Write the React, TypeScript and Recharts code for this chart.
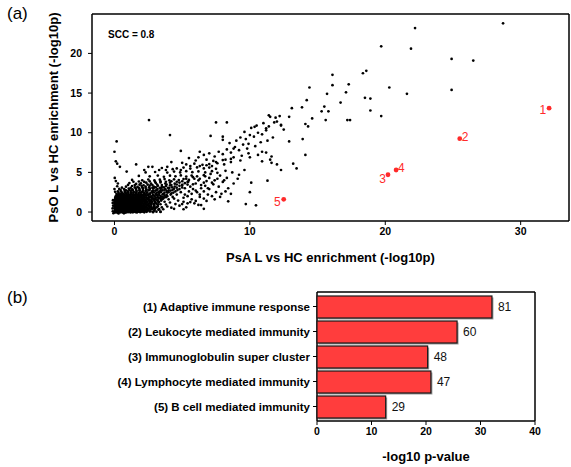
import {
  ScatterChart,
  Scatter,
  BarChart,
  Bar,
  XAxis,
  YAxis,
  CartesianGrid,
  LabelList,
} from 'recharts'

// panel (a): -log10p for each gene set, PsA (x) vs PsO (y)
const coreGenes: [number, number][] = [
  [0.0, 0.0], [0.08, -0.05], [0.15, 0.05], [0.22, -0.08], [0.3, 0.02], [0.38, 0.08], [0.45, -0.04], [0.52, 0.04],
  [0.6, -0.06], [0.68, 0.06], [0.76, 0.0], [0.84, -0.07], [0.92, 0.05], [1.0, -0.02], [1.1, 0.07], [1.18, -0.05],
  [1.27, 0.03], [1.36, -0.03], [1.46, 0.06], [1.55, 0.0], [1.66, -0.06], [1.78, 0.04], [1.9, -0.02], [2.04, 0.05],
  [2.2, -0.04], [2.38, 0.03], [2.6, 0.08], [2.85, -0.02], [3.1, 0.05], [3.4, 0.02],
  [0.03, 0.28], [0.11, 0.22], [0.19, 0.3], [0.27, 0.24], [0.35, 0.32], [0.43, 0.21], [0.5, 0.29], [0.58, 0.25],
  [0.66, 0.33], [0.74, 0.22], [0.82, 0.3], [0.9, 0.26], [0.98, 0.34], [1.07, 0.23], [1.16, 0.31], [1.25, 0.24],
  [1.34, 0.29], [1.44, 0.22], [1.54, 0.33], [1.64, 0.27], [1.75, 0.21], [1.87, 0.3], [2.0, 0.25], [2.15, 0.33],
  [2.3, 0.2], [2.48, 0.28], [2.7, 0.35], [2.95, 0.24], [3.25, 0.3],
  [0.0, 0.52], [0.09, 0.47], [0.17, 0.55], [0.25, 0.5], [0.33, 0.44], [0.41, 0.56], [0.49, 0.49], [0.57, 0.53],
  [0.65, 0.46], [0.73, 0.57], [0.81, 0.5], [0.89, 0.45], [0.97, 0.55], [1.06, 0.48], [1.15, 0.58], [1.24, 0.51],
  [1.33, 0.45], [1.43, 0.54], [1.53, 0.49], [1.63, 0.57], [1.74, 0.46], [1.86, 0.53], [1.99, 0.6], [2.12, 0.48],
  [2.27, 0.55], [2.43, 0.5], [2.6, 0.58], [2.82, 0.47], [3.05, 0.56],
  [0.02, 0.76], [0.1, 0.72], [0.18, 0.8], [0.26, 0.74], [0.34, 0.7], [0.42, 0.79], [0.5, 0.75], [0.58, 0.71],
  [0.66, 0.8], [0.74, 0.76], [0.82, 0.7], [0.9, 0.78], [0.99, 0.73], [1.08, 0.81], [1.17, 0.74], [1.26, 0.7],
  [1.36, 0.79], [1.46, 0.75], [1.56, 0.82], [1.67, 0.71], [1.79, 0.77], [1.92, 0.84], [2.06, 0.72], [2.2, 0.8],
  [2.36, 0.75], [2.54, 0.83], [2.72, 0.7], [2.95, 0.79], [3.2, 0.74],
  [0.01, 1.0], [0.09, 0.96], [0.17, 1.04], [0.25, 0.98], [0.33, 0.94], [0.41, 1.03], [0.49, 0.99], [0.57, 1.06],
  [0.65, 0.95], [0.73, 1.01], [0.81, 1.07], [0.9, 0.97], [0.99, 1.03], [1.08, 0.95], [1.18, 1.05], [1.28, 1.0],
  [1.38, 0.94], [1.49, 1.06], [1.6, 0.99], [1.72, 1.04], [1.85, 0.96], [1.98, 1.08], [2.13, 1.0], [2.29, 1.05],
  [2.46, 0.97], [2.65, 1.07], [2.88, 1.0], [3.1, 1.06], [3.4, 0.98],
  [0.0, 1.27], [0.08, 1.22], [0.16, 1.3], [0.24, 1.24], [0.32, 1.2], [0.41, 1.29], [0.5, 1.25], [0.59, 1.32],
  [0.68, 1.21], [0.77, 1.28], [0.86, 1.23], [0.95, 1.31], [1.05, 1.26], [1.15, 1.2], [1.25, 1.3], [1.36, 1.24],
  [1.47, 1.33], [1.58, 1.27], [1.7, 1.21], [1.83, 1.3], [1.96, 1.25], [2.1, 1.34], [2.26, 1.22], [2.42, 1.3],
  [2.6, 1.26], [2.8, 1.33], [3.02, 1.24], [3.3, 1.3],
  [0.02, 1.52], [0.11, 1.47], [0.2, 1.55], [0.3, 1.5], [0.4, 1.45], [0.5, 1.56], [0.6, 1.49], [0.7, 1.54],
  [0.8, 1.46], [0.9, 1.57], [1.0, 1.51], [1.11, 1.47], [1.22, 1.55], [1.33, 1.5], [1.45, 1.58], [1.57, 1.46],
  [1.7, 1.53], [1.84, 1.6], [1.98, 1.48], [2.13, 1.56], [2.3, 1.5], [2.48, 1.59], [2.68, 1.47], [2.9, 1.55],
  [3.15, 1.52], [3.45, 1.6],
  [0.05, 1.78], [0.16, 1.72], [0.27, 1.8], [0.38, 1.74], [0.5, 1.7], [0.62, 1.79], [0.74, 1.73], [0.86, 1.81],
  [0.98, 1.76], [1.1, 1.71], [1.23, 1.8], [1.36, 1.75], [1.5, 1.83], [1.64, 1.72], [1.79, 1.79], [1.95, 1.86],
  [2.1, 1.74], [2.27, 1.82], [2.45, 1.77], [2.64, 1.85], [2.85, 1.73], [3.08, 1.81], [3.35, 1.78], [3.65, 1.84],
  [0.1, 2.02], [0.24, 1.97], [0.37, 2.05], [0.5, 2.0], [0.64, 1.95], [0.78, 2.06], [0.92, 2.0], [1.06, 2.08],
  [1.2, 1.96], [1.35, 2.03], [1.5, 2.1], [1.65, 1.98], [1.8, 2.05], [1.97, 2.12], [2.14, 2.0], [2.32, 2.07],
  [2.5, 2.14], [2.7, 1.99], [2.92, 2.08], [3.15, 2.15], [3.4, 2.02], [3.7, 2.1],
  [0.15, 2.3], [0.32, 2.26], [0.5, 2.34], [0.68, 2.28], [0.86, 2.36], [1.04, 2.25], [1.22, 2.33], [1.4, 2.4],
  [1.58, 2.27], [1.77, 2.35], [1.96, 2.42], [2.16, 2.3], [2.36, 2.38], [2.57, 2.26], [2.8, 2.44], [3.05, 2.33],
  [3.3, 2.4], [3.6, 2.28], [3.9, 2.45],
  [0.25, 2.62], [0.5, 2.58], [0.75, 2.66], [0.98, 2.6], [1.2, 2.68], [1.42, 2.56], [1.64, 2.64], [1.86, 2.71],
  [2.08, 2.59], [2.3, 2.67], [2.54, 2.74], [2.78, 2.6], [3.02, 2.69], [3.28, 2.57], [3.55, 2.72], [3.85, 2.64],
  [4.15, 2.7],
  [0.35, 2.92], [0.72, 2.88], [1.05, 2.95], [1.32, 2.86], [1.58, 2.98], [1.85, 2.9], [2.1, 3.0], [2.36, 2.87],
  [2.62, 2.96], [2.9, 3.03], [3.18, 2.9], [3.46, 2.99], [3.76, 2.88], [4.05, 3.02], [4.4, 2.94],
  [0.2, 3.25], [0.85, 3.2], [1.3, 3.28], [1.7, 3.18], [2.0, 3.3], [2.3, 3.22], [2.6, 3.32], [2.9, 3.2],
  [3.2, 3.3], [3.5, 3.18], [3.8, 3.28], [4.1, 3.35], [4.45, 3.22], [4.8, 3.3],
  [0.25, 3.6], [1.1, 3.65], [1.6, 3.55], [1.95, 3.62], [2.35, 3.7], [2.7, 3.58], [3.05, 3.66], [3.4, 3.74],
  [3.75, 3.6], [4.1, 3.7], [4.45, 3.58], [4.8, 3.72], [5.2, 3.64],
  [0.05, 2.55], [0.0, 2.9], [0.1, 3.9], [0.02, 4.3],
  [-0.12, 0.1], [-0.14, 0.45], [-0.1, 0.8], [-0.13, 1.15], [-0.11, 1.5], [-0.08, -0.15], [0.3, -0.18], [0.7, -0.16],
]

// second pass through the crowded corner, between the rows above
const coreGenesFill: [number, number][] = [
  [0.05, 0.14], [0.13, 0.1], [0.21, 0.16], [0.29, 0.12], [0.37, 0.09], [0.46, 0.15], [0.55, 0.11], [0.64, 0.17],
  [0.72, 0.1], [0.8, 0.14], [0.88, 0.12], [0.96, 0.17], [1.04, 0.09], [1.13, 0.15], [1.22, 0.12], [1.31, 0.16],
  [1.41, 0.1], [1.51, 0.14], [1.61, 0.11], [1.72, 0.17], [1.83, 0.13], [1.95, 0.09], [2.1, 0.15], [2.26, 0.12],
  [2.44, 0.16], [2.66, 0.1], [2.9, 0.14],
  [0.06, 0.4], [0.14, 0.36], [0.22, 0.41], [0.3, 0.37], [0.39, 0.34], [0.47, 0.42], [0.55, 0.38], [0.63, 0.35],
  [0.71, 0.41], [0.79, 0.37], [0.87, 0.43], [0.95, 0.36], [1.03, 0.4], [1.12, 0.35], [1.21, 0.42], [1.3, 0.38],
  [1.4, 0.34], [1.5, 0.41], [1.6, 0.37], [1.71, 0.43], [1.82, 0.36], [1.94, 0.4], [2.08, 0.38], [2.22, 0.42],
  [2.38, 0.35], [2.56, 0.41], [2.78, 0.38], [3.0, 0.42], [3.3, 0.36],
  [0.04, 0.64], [0.12, 0.6], [0.21, 0.66], [0.29, 0.62], [0.37, 0.59], [0.45, 0.67], [0.53, 0.62], [0.61, 0.65],
  [0.69, 0.6], [0.77, 0.66], [0.85, 0.63], [0.93, 0.59], [1.02, 0.67], [1.11, 0.62], [1.2, 0.65], [1.29, 0.6],
  [1.39, 0.68], [1.49, 0.63], [1.59, 0.59], [1.7, 0.66], [1.81, 0.62], [1.93, 0.68], [2.06, 0.61], [2.2, 0.66],
  [2.35, 0.63], [2.52, 0.69], [2.7, 0.6], [2.92, 0.65], [3.15, 0.62],
  [0.05, 0.89], [0.13, 0.85], [0.22, 0.91], [0.3, 0.87], [0.38, 0.84], [0.46, 0.92], [0.54, 0.88], [0.62, 0.84],
  [0.7, 0.9], [0.78, 0.86], [0.86, 0.93], [0.95, 0.85], [1.04, 0.9], [1.13, 0.86], [1.22, 0.92], [1.32, 0.88],
  [1.42, 0.84], [1.52, 0.91], [1.63, 0.87], [1.75, 0.93], [1.87, 0.86], [2.0, 0.9], [2.15, 0.87], [2.32, 0.93],
  [2.5, 0.85], [2.7, 0.91], [2.92, 0.88], [3.2, 0.92],
  [0.04, 1.14], [0.12, 1.1], [0.2, 1.16], [0.28, 1.12], [0.37, 1.09], [0.45, 1.17], [0.53, 1.13], [0.61, 1.1],
  [0.7, 1.16], [0.78, 1.12], [0.86, 1.18], [0.94, 1.1], [1.03, 1.15], [1.12, 1.11], [1.22, 1.17], [1.32, 1.12],
  [1.42, 1.09], [1.53, 1.16], [1.64, 1.12], [1.76, 1.18], [1.89, 1.1], [2.03, 1.15], [2.2, 1.12], [2.37, 1.18],
  [2.55, 1.11], [2.75, 1.16], [2.98, 1.13], [3.25, 1.17],
  [0.04, 1.39], [0.12, 1.35], [0.2, 1.41], [0.28, 1.37], [0.36, 1.34], [0.45, 1.42], [0.54, 1.38], [0.63, 1.35],
  [0.72, 1.41], [0.81, 1.37], [0.9, 1.43], [1.0, 1.36], [1.1, 1.4], [1.2, 1.36], [1.3, 1.42], [1.41, 1.38],
  [1.52, 1.34], [1.64, 1.41], [1.76, 1.37], [1.9, 1.43], [2.04, 1.36], [2.2, 1.4], [2.36, 1.37], [2.54, 1.43],
  [2.74, 1.36], [2.96, 1.41], [3.2, 1.38],
  [0.06, 1.64], [0.15, 1.6], [0.25, 1.66], [0.35, 1.62], [0.45, 1.59], [0.55, 1.67], [0.65, 1.63], [0.75, 1.6],
  [0.85, 1.66], [0.95, 1.62], [1.05, 1.68], [1.16, 1.6], [1.27, 1.65], [1.39, 1.61], [1.51, 1.67], [1.63, 1.62],
  [1.76, 1.68], [1.9, 1.61], [2.05, 1.66], [2.2, 1.63], [2.38, 1.69], [2.57, 1.61], [2.77, 1.66], [3.0, 1.64],
  [3.25, 1.68], [3.5, 1.62],
  [0.08, 1.89], [0.2, 1.85], [0.32, 1.91], [0.44, 1.87], [0.56, 1.84], [0.68, 1.92], [0.8, 1.88], [0.92, 1.85],
  [1.04, 1.91], [1.16, 1.87], [1.29, 1.93], [1.42, 1.86], [1.56, 1.9], [1.7, 1.86], [1.85, 1.92], [2.0, 1.88],
  [2.18, 1.94], [2.36, 1.86], [2.55, 1.91], [2.75, 1.88], [2.97, 1.94], [3.2, 1.87], [3.5, 1.92], [3.8, 1.88],
  [0.18, 2.16], [0.32, 2.12], [0.46, 2.18], [0.6, 2.14], [0.74, 2.1], [0.88, 2.19], [1.02, 2.15], [1.16, 2.12],
  [1.3, 2.18], [1.44, 2.14], [1.59, 2.2], [1.74, 2.12], [1.9, 2.17], [2.06, 2.13], [2.24, 2.19], [2.42, 2.14],
  [2.62, 2.21], [2.84, 2.13], [3.06, 2.18], [3.3, 2.15], [3.55, 2.21], [3.85, 2.14], [4.15, 2.2],
  [0.3, 2.46], [0.55, 2.42], [0.78, 2.48], [1.0, 2.44], [1.2, 2.5], [1.4, 2.42], [1.6, 2.47], [1.8, 2.43],
  [2.0, 2.5], [2.2, 2.44], [2.42, 2.49], [2.66, 2.42], [2.9, 2.48], [3.15, 2.45], [3.42, 2.51], [3.7, 2.44],
  [4.0, 2.5], [4.35, 2.46],
  [0.45, 2.77], [0.85, 2.73], [1.1, 2.79], [1.35, 2.74], [1.6, 2.8], [1.85, 2.73], [2.1, 2.78], [2.35, 2.75],
  [2.6, 2.81], [2.85, 2.74], [3.12, 2.79], [3.4, 2.76], [3.7, 2.82], [4.0, 2.75], [4.3, 2.8], [4.65, 2.77],
  [0.55, 3.07], [1.2, 3.05], [1.5, 3.1], [1.8, 3.04], [2.05, 3.12], [2.3, 3.06], [2.55, 3.1], [2.8, 3.05],
  [3.05, 3.12], [3.35, 3.06], [3.65, 3.11], [3.95, 3.05], [4.25, 3.12], [4.6, 3.07], [5.0, 3.1],
  [1.0, 3.42], [1.5, 3.4], [1.85, 3.45], [2.15, 3.38], [2.45, 3.46], [2.8, 3.4], [3.15, 3.47], [3.5, 3.41],
  [3.85, 3.46], [4.2, 3.4], [4.6, 3.47], [5.0, 3.42], [5.4, 3.46],
  [1.4, 3.82], [1.8, 3.85], [2.2, 3.8], [2.6, 3.87], [3.0, 3.81], [3.4, 3.88], [3.8, 3.82], [4.2, 3.88],
  [4.6, 3.82], [5.0, 3.88], [5.45, 3.83],
]

const trendGenes: [number, number][] = [
  [1.3, 4.05], [2.05, 4.0], [2.5, 4.1], [2.95, 3.98], [3.35, 4.08], [3.7, 4.15], [4.05, 4.0], [4.4, 4.12],
  [4.75, 4.03], [5.1, 4.15], [5.5, 4.05], [5.9, 4.2],
  [1.8, 4.55], [2.6, 4.5], [3.2, 4.6], [3.65, 4.45], [4.1, 4.58], [4.5, 4.5], [4.9, 4.62], [5.3, 4.48],
  [5.7, 4.6], [6.1, 4.5], [6.6, 4.65],
  [0.9, 5.1], [2.3, 5.0], [3.0, 5.05], [3.9, 4.98], [4.4, 5.1], [4.85, 5.0], [5.3, 5.15], [5.75, 5.02],
  [6.2, 5.12], [6.7, 5.0], [7.2, 5.15],
  [3.5, 5.55], [4.6, 5.5], [5.1, 5.6], [5.6, 5.48], [6.1, 5.62], [6.6, 5.5], [7.0, 5.6], [7.5, 5.45],
  [5.3, 6.0], [5.9, 6.1], [6.5, 5.95], [7.0, 6.05], [7.6, 6.15], [8.1, 6.0],
  [6.0, 6.5], [6.8, 6.6], [7.3, 6.45], [8.0, 6.55], [8.6, 6.7],
  [3.6, 0.35], [3.9, 0.7], [4.2, 0.55], [4.5, 1.0], [4.8, 0.8], [5.1, 1.3], [5.4, 1.1], [5.7, 1.6],
  [6.0, 1.4], [6.3, 1.9], [6.6, 1.7], [6.9, 2.2], [7.2, 2.0], [7.5, 2.5], [7.9, 2.3],
  [3.7, 1.3], [4.0, 1.6], [4.3, 1.9], [4.6, 2.2], [4.9, 2.5], [5.2, 2.2], [5.5, 2.6], [5.8, 2.9],
  [6.1, 2.5], [6.4, 3.0], [6.7, 3.3], [7.0, 2.9], [7.3, 3.5], [7.7, 3.2], [8.0, 3.8], [8.4, 3.0],
  [8.8, 3.6], [9.1, 4.2], [5.0, 3.4], [5.4, 3.8], [5.8, 3.5], [6.2, 4.0], [6.6, 3.7], [7.0, 4.3],
  [7.4, 4.0], [7.8, 4.6], [8.3, 4.3], [8.7, 5.0], [9.2, 4.7], [9.6, 5.3],
  [3.5, 0.6], [3.8, 0.95], [4.1, 1.2], [4.4, 0.4], [4.7, 1.45], [3.45, 1.45], [3.6, 1.7], [3.9, 2.0],
  [4.2, 2.35], [4.5, 2.6], [4.8, 2.9], [5.1, 1.8], [5.4, 2.0], [5.7, 2.3], [6.0, 2.7], [6.3, 2.2],
  [6.6, 2.6], [6.9, 3.0], [5.2, 3.0], [5.6, 3.2], [6.0, 3.6], [6.4, 3.4], [6.8, 3.9], [7.2, 3.7],
  [7.6, 4.2], [8.1, 4.0], [5.3, 4.2], [5.8, 4.4], [6.3, 4.2], [6.7, 4.5], [7.1, 4.8], [7.6, 4.95],
  [8.2, 5.2], [3.3, 5.3], [3.8, 5.3], [4.3, 5.4], [4.9, 5.3], [5.6, 5.8], [6.3, 5.8], [7.2, 5.8],
  [4.4, 1.7], [5.0, 1.0], [5.3, 0.6], [5.9, 1.1], [6.2, 0.9], [6.8, 1.4], [7.4, 1.6], [7.8, 1.9],
  [8.2, 2.6], [8.6, 2.3],
  [6.2, 6.9], [6.6, 7.2], [7.0, 7.4], [7.4, 7.0], [7.7, 7.6], [8.0, 7.3], [8.3, 7.9], [8.6, 7.5],
  [8.9, 8.2], [9.2, 7.8], [9.5, 8.5], [9.8, 8.0], [6.8, 5.9], [7.5, 6.3], [8.2, 6.6], [8.8, 6.9],
  [9.4, 7.1], [9.9, 7.4], [8.5, 8.7], [9.0, 9.0], [9.3, 9.4], [9.7, 9.2], [10.0, 9.7], [10.3, 9.5],
  [10.6, 10.0], [10.9, 9.8], [11.2, 10.3], [9.6, 10.1], [10.1, 10.6], [10.5, 10.9], [11.0, 11.2], [11.4, 10.8],
  [8.8, 8.0], [9.9, 8.6], [10.4, 8.3], [10.8, 8.8], [11.3, 9.0], [11.7, 9.4], [8.6, 6.3], [9.3, 6.5],
  [10.0, 6.9], [10.6, 7.2], [11.2, 7.5], [11.6, 7.0], [10.9, 6.4], [11.5, 6.6],
]

const sparseGenes: [number, number][] = [
  [28.7, 23.8], [22.2, 23.2], [19.7, 20.9], [21.9, 20.6], [24.9, 19.3], [26.5, 19.1], [16.1, 17.3], [18.35, 17.5],
  [18.6, 17.8], [16.1, 16.0], [17.3, 16.1], [20.3, 15.7], [14.4, 15.7], [24.9, 15.4], [21.6, 14.9], [15.7, 14.9],
  [17.1, 15.1], [18.5, 14.4], [18.9, 14.3], [14.2, 14.1], [16.7, 13.8], [13.85, 13.2], [13.1, 13.1], [15.5, 13.3],
  [15.3, 12.7], [15.8, 12.7], [18.9, 12.8], [12.9, 12.0], [19.7, 12.1], [14.6, 11.8], [15.6, 11.6], [17.2, 11.6],
  [17.4, 11.6], [14.1, 11.1], [14.3, 10.8], [12.3, 10.9], [12.5, 10.4], [12.9, 8.9], [13.9, 9.2], [14.1, 7.2],
  [13.2, 6.1], [13.45, 5.5], [12.3, 5.3], [12.0, 6.0],
  [2.55, 11.6], [4.1, 9.7], [0.16, 8.9], [0.0, 7.6], [0.1, 6.4], [0.2, 6.1], [0.4, 5.7], [1.6, 6.0],
  [8.3, 11.3], [7.1, 9.6], [8.0, 9.5], [8.0, 9.1], [7.5, 11.3], [4.9, 7.7], [11.5, 12.0], [12.2, 12.1],
  [11.8, 11.3], [12.3, 11.0], [10.35, 10.75], [11.2, 10.55], [11.4, 12.2], [11.9, 11.9], [12.0, 11.4],
  [11.3, 3.95], [10.1, 3.7], [10.0, 2.5], [9.7, 1.0], [10.45, 0.85], [8.4, 1.35], [6.6, 0.4], [6.4, 0.88],
  [5.6, 1.25], [5.1, 0.35], [3.4, 0.05], [2.2, 5.3], [2.5, 5.7], [2.8, 5.7], [3.9, 5.7], [4.2, 6.3],
  [5.5, 6.8], [6.3, 7.6], [5.0, 6.2], [10.9, 7.6], [11.6, 6.2],
]

// the five terms picked out in red
const HIGHLIGHT_IDS = ['1', '2', '3', '4', '5']
const HIGHLIGHT_PSA = [32.1, 25.5, 20.2, 20.8, 12.5]
const HIGHLIGHT_PSO = [13.1, 9.25, 4.7, 5.3, 1.6]

const SCATTER_X_TICKS = [0, 10, 20, 30]
const SCATTER_Y_TICKS = [0, 5, 10, 15, 20]

// panel (b): enrichment of the five terms
const TERMS = [
  '(1) Adaptive immune response',
  '(2) Leukocyte mediated immunity',
  '(3) Immunoglobulin super cluster',
  '(4) Lymphocyte mediated immunity',
  '(5) B cell mediated immunity',
]
const TERM_PVALUES = [32.1, 25.7, 20.3, 20.9, 12.6]
const TERM_GENES = [81, 60, 48, 47, 29]
const BAR_X_TICKS = [0, 10, 20, 30, 40]

const FONT = '"Liberation Sans", Arial, sans-serif'
const RED = '#ff2a2a'

// where each red number sits next to its dot
const HIGHLIGHT_LABEL: Record<string, { dx: number; dy: number; anchor: 'start' | 'end' }> = {
  '1': { dx: -3, dy: 6, anchor: 'end' },
  '2': { dx: 2, dy: 2.5, anchor: 'start' },
  '3': { dx: -2, dy: 8, anchor: 'end' },
  '4': { dx: 2, dy: 2, anchor: 'start' },
  '5': { dx: -3, dy: 7, anchor: 'end' },
}

const toPoints = (rows: [number, number][]) => rows.map(([x, y]) => ({ x, y }))
const geneSets = [
  ...toPoints(coreGenes),
  ...toPoints(coreGenesFill),
  ...toPoints(trendGenes),
  ...toPoints(sparseGenes),
]
const highlighted = HIGHLIGHT_IDS.map((id, i) => ({ id, x: HIGHLIGHT_PSA[i], y: HIGHLIGHT_PSO[i] }))
const termData = TERMS.map((term, i) => ({ term, pValue: TERM_PVALUES[i], genes: TERM_GENES[i] }))

const tickStyle = { fontSize: 10.5, fontWeight: 700, fill: '#000', fontFamily: FONT }
const titleStyle = { fontSize: 13, fontWeight: 700, fill: '#000', fontFamily: FONT }

const boxV = ({ offset }: any) => [offset.left, offset.left + offset.width]
const boxH = ({ offset }: any) => [offset.top, offset.top + offset.height]

function GeneDot(props: any) {
  return <circle cx={props.cx} cy={props.cy} r={1.35} fill="#000" />
}

function HighlightDot(props: any) {
  const id = props.payload?.id ?? props.id
  const l = HIGHLIGHT_LABEL[id]
  return (
    <g>
      <circle cx={props.cx} cy={props.cy} r={2.4} fill={RED} />
      <text
        x={props.cx + l.dx}
        y={props.cy + l.dy}
        textAnchor={l.anchor}
        fontSize={12}
        fill={RED}
        fontFamily={FONT}
      >
        {id}
      </text>
    </g>
  )
}

function ShadowBar(props: any) {
  const { x, y, width, height } = props
  return (
    <g>
      <rect x={x + 1.5} y={y + 1.5} width={width} height={height} fill="#9a9a9a" />
      <rect x={x} y={y} width={width} height={height} fill="#ff3d3d" stroke="#1a1a1a" strokeWidth={1.2} />
    </g>
  )
}

export default function App() {
  return (
    <div
      style={{
        position: 'absolute',
        left: 0,
        top: 0,
        width: 571,
        height: 467,
        background: '#fff',
        fontFamily: FONT,
      }}
    >
      <div style={{ position: 'absolute', left: 0, top: 0 }}>
        <ScatterChart width={571} height={268} margin={{ top: 14, right: 2, bottom: 0, left: 0 }}>
          <CartesianGrid
            stroke="#000"
            strokeWidth={1.5}
            verticalCoordinatesGenerator={boxV}
            horizontalCoordinatesGenerator={boxH}
          />
          <XAxis
            type="number"
            dataKey="x"
            domain={[-1.66, 33.57]}
            allowDataOverflow
            ticks={SCATTER_X_TICKS}
            height={47}
            tickSize={4}
            tickMargin={3}
            axisLine={false}
            tickLine={{ stroke: '#000' }}
            tick={tickStyle}
            label={{
              value: 'PsA L vs HC enrichment (-log10p)',
              position: 'insideBottom',
              offset: 6,
              style: titleStyle,
            }}
          />
          <YAxis
            type="number"
            dataKey="y"
            domain={[-1.13, 24.97]}
            allowDataOverflow
            ticks={SCATTER_Y_TICKS}
            width={92}
            tickSize={4}
            tickMargin={6}
            axisLine={false}
            tickLine={{ stroke: '#000' }}
            tick={tickStyle}
            label={{
              value: 'PsO L vs HC enrichment (-log10p)',
              angle: -90,
              position: 'insideLeft',
              offset: 53,
              style: { ...titleStyle, textAnchor: 'middle' },
            }}
          />
          <Scatter data={geneSets} shape={GeneDot} isAnimationActive={false} />
          <Scatter data={highlighted} shape={HighlightDot} isAnimationActive={false} />
        </ScatterChart>
      </div>

      <div style={{ position: 'absolute', left: 0, top: 270 }}>
        <BarChart
          width={571}
          height={197}
          data={termData}
          layout="vertical"
          margin={{ top: 22, right: 36, bottom: 0, left: 0 }}
        >
          <CartesianGrid
            stroke="#000"
            strokeWidth={1.5}
            verticalCoordinatesGenerator={boxV}
            horizontalCoordinatesGenerator={boxH}
          />
          <XAxis
            type="number"
            domain={[0, 40]}
            ticks={BAR_X_TICKS}
            height={46}
            tickSize={4}
            tickMargin={3}
            axisLine={false}
            tickLine={{ stroke: '#000' }}
            tick={tickStyle}
            label={{ value: '-log10 p-value', position: 'insideBottom', offset: 6, style: titleStyle }}
          />
          <YAxis
            type="category"
            dataKey="term"
            width={317}
            padding={{ top: 2, bottom: 2 }}
            tickSize={4}
            tickMargin={3}
            axisLine={false}
            tickLine={{ stroke: '#000' }}
            tick={{ ...tickStyle, fontSize: 11.5 }}
          />
          <Bar dataKey="pValue" barSize={22} shape={ShadowBar} isAnimationActive={false}>
            <LabelList dataKey="genes" position="right" offset={6} fontSize={12} fill="#111" fontFamily={FONT} />
          </Bar>
        </BarChart>
      </div>

      <div style={{ position: 'absolute', left: 7, top: 4, fontSize: 17, lineHeight: '20px' }}>(a)</div>
      <div style={{ position: 'absolute', left: 7, top: 288, fontSize: 17, lineHeight: '20px' }}>(b)</div>
      <div style={{ position: 'absolute', left: 108, top: 29, fontSize: 10, fontWeight: 700, lineHeight: '12px' }}>
        SCC = 0.8
      </div>
    </div>
  )
}
